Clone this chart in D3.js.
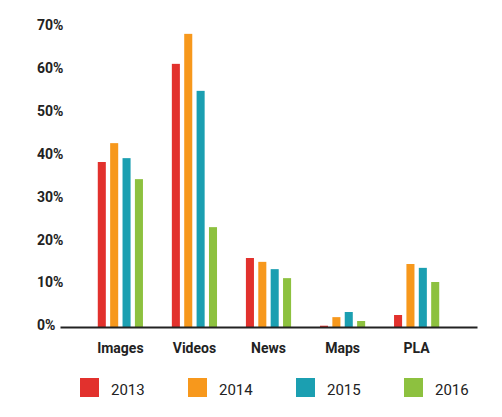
<!DOCTYPE html>
<html>
<head>
<meta charset="utf-8">
<script src="https://cdn.jsdelivr.net/npm/d3@7"></script>
<style>
  body { margin: 0; background: #fff; }
  svg { display: block; font-family: Roboto, "Noto Sans", sans-serif; }
</style>
</head>
<body>
<div id="chart"></div>
<script>
// data (percent)
const categories = ["Images", "Videos", "News", "Maps", "PLA"];
const years = ["2013", "2014", "2015", "2016"];
const v2013 = [38.5, 61.4, 16.1, 0.3, 2.8];
const v2014 = [42.9, 68.4, 15.2, 2.3, 14.7];
const v2015 = [39.4, 55.1, 13.5, 3.5, 13.8];
const v2016 = [34.5, 23.3, 11.4, 1.4, 10.5];
const yTicks = [0, 10, 20, 30, 40, 50, 60, 70];
const colors = ["#e2312d", "#f7981c", "#1b9fb1", "#8dc13f"];

const series = [v2013, v2014, v2015, v2016];
const data = categories.map((c, i) => ({
  cat: c,
  values: years.map((y, j) => ({ year: y, value: series[j][i] }))
}));

const width = 502, height = 417;

const svg = d3.select("#chart").append("svg")
  .attr("width", width)
  .attr("height", height);

const x0 = d3.scaleBand()
  .domain(categories)
  .range([60, 477])
  .paddingInner(0.39)
  .paddingOuter(0.51);

const x1 = d3.scaleBand()
  .domain(years)
  .range([0, x0.bandwidth()])
  .paddingInner(0.35);

const y = d3.scaleLinear()
  .domain([0, 70])
  .range([327, 27]);

const color = d3.scaleOrdinal().domain(years).range(colors);

// y axis: labels only, left aligned
const yAxis = svg.append("g")
  .call(d3.axisLeft(y).tickValues(yTicks).tickSize(0).tickFormat(d => d + "%"));
yAxis.select(".domain").remove();
yAxis.selectAll("text")
  .attr("x", 37)
  .attr("dy", "0.2em")
  .attr("text-anchor", "start")
  .attr("font-family", "Roboto, sans-serif")
  .attr("font-size", 14)
  .attr("font-weight", "bold")
  .attr("fill", "#222");

// bars
const group = svg.append("g")
  .selectAll("g")
  .data(data)
  .join("g")
  .attr("transform", d => `translate(${x0(d.cat)},0)`);

group.selectAll("rect")
  .data(d => d.values)
  .join("rect")
  .attr("x", d => x1(d.year))
  .attr("y", d => y(d.value))
  .attr("width", x1.bandwidth())
  .attr("height", d => y(0) - y(d.value))
  .attr("fill", d => color(d.year));

// x axis
const xAxis = svg.append("g")
  .attr("transform", `translate(0,${y(0)})`)
  .call(d3.axisBottom(x0).tickSize(0).tickSizeOuter(0));
xAxis.select(".domain")
  .attr("stroke", "#222")
  .attr("stroke-width", 2);
xAxis.selectAll("text")
  .attr("dy", "1.62em")
  .attr("font-family", "Roboto, sans-serif")
  .attr("font-size", 14)
  .attr("font-weight", "bold")
  .attr("fill", "#222");

// legend
const legend = svg.append("g")
  .selectAll("g")
  .data(years)
  .join("g")
  .attr("transform", (d, i) => `translate(${80 + i * 108},378)`);

legend.append("rect")
  .attr("width", 19)
  .attr("height", 19)
  .attr("fill", d => color(d));

legend.append("text")
  .attr("x", 31)
  .attr("y", 17)
  .attr("font-size", 15)
  .attr("fill", "#222")
  .text(d => d);
</script>
</body>
</html>
